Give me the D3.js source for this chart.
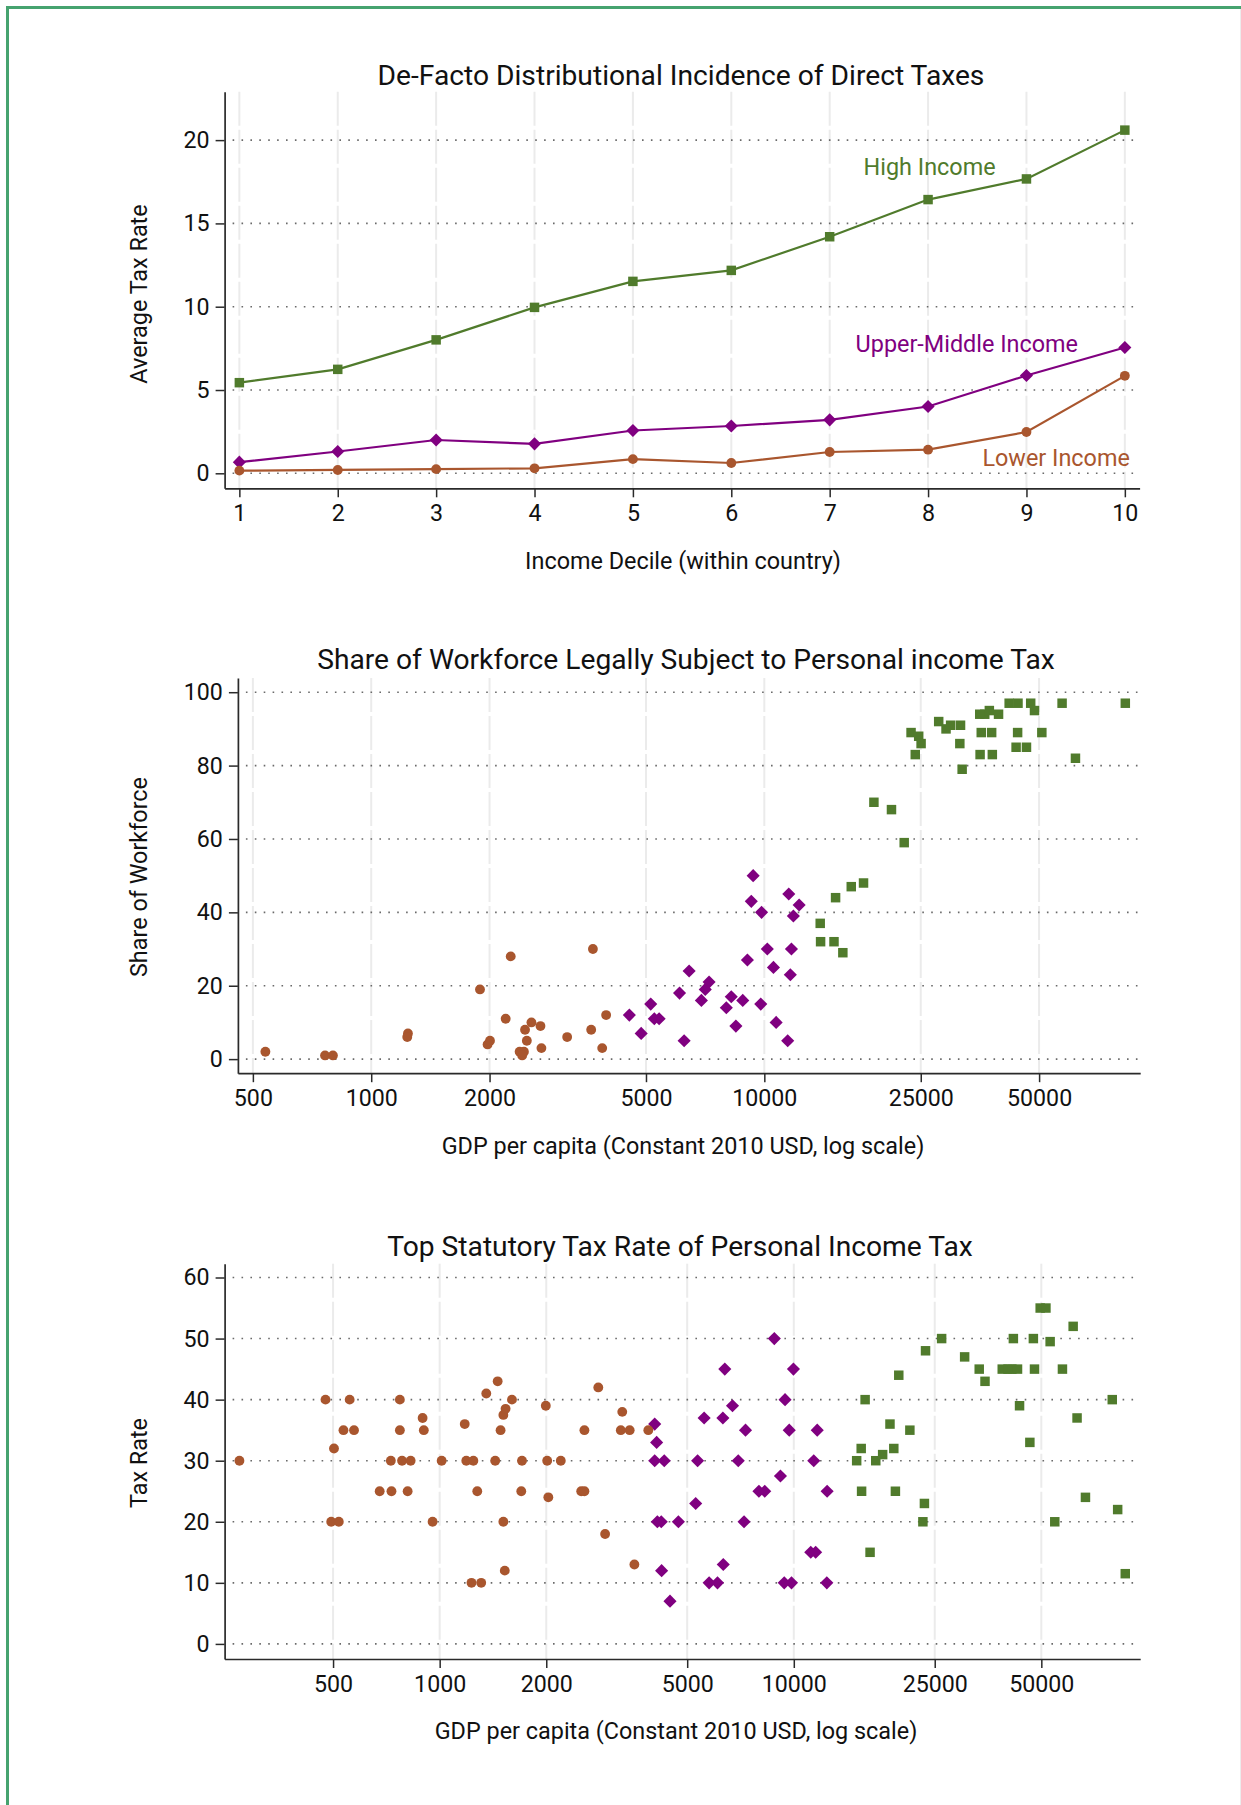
<!DOCTYPE html>
<html>
<head>
<meta charset="utf-8">
<script src="https://cdn.jsdelivr.net/npm/d3@7"></script>
<style>
  html, body { margin: 0; padding: 0; background: #fff; }
  svg { display: block; font-family: Roboto, "Noto Sans", sans-serif; }
</style>
</head>
<body>
<svg id="fig" width="1241" height="1805"></svg>
<script>
// ---- Panel 1: average tax rate by income decile ----
const deciles = [1, 2, 3, 4, 5, 6, 7, 8, 9, 10];
const rateHigh  = [5.44, 6.24, 8.01, 9.96, 11.52, 12.18, 14.2, 16.43, 17.67, 20.6];
const rateUpper = [0.67, 1.31, 2.0, 1.77, 2.57, 2.84, 3.21, 4.01, 5.87, 7.55];
const rateLower = [0.16, 0.2, 0.25, 0.3, 0.85, 0.62, 1.28, 1.42, 2.48, 5.85];
const rateTicks = [0, 5, 10, 15, 20];

// ---- Panel 2: share of workforce legally subject to PIT, [GDP per capita, share] ----
const shareLower = [[538,2],[763,1],[799,1],[1240,7],[1235,6],[1891,19],[2264,28],[2198,11],[1977,4],[2005,5],
  [2462,8],[2556,10],[2695,9],[2488,5],[2385,2],[2446,2],[2421,1],[2710,3],[3151,6],[3664,30],[3627,8],[3959,12],[3869,3]];
const shareUpper = [[4536,12],[4861,7],[5141,15],[5250,11],[5400,11],[6086,18],[6252,5],[6438,24],[6917,16],[7076,19],
  [7236,21],[8005,14],[8240,17],[8466,9],[8813,16],[9057,27],[9265,43],[9367,50],[9794,15],[9840,40],[10178,30],
  [10549,25],[10717,10],[11467,5],[11540,45],[11646,23],[11722,30],[11855,39],[12263,42]];
const shareHigh = [[13873,37],[13904,32],[15040,32],[15180,44],[15840,29],[16640,47],[17880,48],[19000,70],[21060,68],
  [22690,59],[23620,89],[24210,83],[24700,88],[25050,86],[27770,92],[28990,90],[29780,91],[31560,91],[31430,86],
  [31860,79],[35320,94],[36370,94],[37360,95],[39430,94],[35630,89],[37870,89],[35390,83],[38020,83],[41960,97],
  [44190,97],[44090,89],[43700,85],[46440,85],[47600,97],[48670,95],[50810,89],[57210,97],[61870,82],[82850,97]];
const shareTicks = [0, 20, 40, 60, 80, 100];

// ---- Panel 3: top statutory PIT rate, [GDP per capita, rate] ----
const topLower = [[272,30],[476,40],[503,32],[494,20],[519,20],[535,35],[557,40],[573,35],[677,25],[731,25],[728,30],
  [772,40],[772,35],[783,30],[828,30],[812,25],[895,37],[902,35],[955,20],[1013,30],[1177,36],[1189,30],[1245,30],
  [1230,10],[1310,10],[1277,25],[1354,41],[1435,30],[1458,43],[1486,35],[1513,37.5],[1535,38.5],[1513,20],[1527,12],
  [1600,40],[1708,30],[1700,25],[1994,39],[2012,30],[2027,24],[2198,30],[2510,25],[2563,25],[2563,35],[2805,42],
  [2932,18],[3278,38],[3247,35],[3440,35],[3547,13],[3883,35]];
const topUpper = [[4048,36],[4099,33],[4048,30],[4307,30],[4118,20],[4224,20],[4234,12],[4471,7],[4722,20],[5284,23],
  [5350,30],[5582,37],[5767,10],[6089,10],[6306,37],[6322,13],[6385,45],[6713,39],[6969,30],[7236,20],[7306,35],
  [7971,25],[8278,25],[8810,50],[9169,27.5],[9447,40],[9398,10],[9708,35],[9852,10],[9977,45],[11166,15],[11528,15],
  [11385,30],[11646,35],[12420,25],[12395,10]];
const topHigh = [[15050,30],[15500,32],[15900,40],[15540,25],[16420,15],[17040,30],[17820,31],[18690,36],[19160,32],
  [19360,25],[19790,44],[21270,35],[23150,20],[23380,23],[23550,48],[26150,50],[30370,47],[33390,45],[34670,43],
  [38780,45],[40270,45],[41280,45],[42830,45],[41690,50],[43400,39],[46410,33],[47480,50],[47830,45],[49630,55],
  [51520,55],[52950,49.5],[54570,20],[57360,45],[61500,52],[63080,37],[66620,24],[79300,40],[82140,22],[86300,11.5]];
const topTicks = [0, 10, 20, 30, 40, 50, 60];

const gdpTicks = [500, 1000, 2000, 5000, 10000, 25000, 50000];

const groupNames = ["High Income", "Upper-Middle Income", "Lower Income"];
const colors = { high: "#507b2c", upper: "#800080", lower: "#a9562e" };

const TITLE_SIZE = 28.2;
const LABEL_SIZE = 23.4;
const TICK_SIZE = 23.2;

const svg = d3.select("#fig");

// outer frame
svg.append("line").attr("x1", 7.5).attr("x2", 1241).attr("y1", 7.5).attr("y2", 7.5)
  .attr("stroke", "#46a36f").attr("stroke-width", 3);
svg.append("line").attr("x1", 7.5).attr("x2", 7.5).attr("y1", 6).attr("y2", 1805)
  .attr("stroke", "#46a36f").attr("stroke-width", 3);
svg.append("line").attr("x1", 1240.5).attr("x2", 1240.5).attr("y1", 9).attr("y2", 1805)
  .attr("stroke", "#ececec").attr("stroke-width", 1);

const symSquare = d3.symbol().type(d3.symbolSquare).size(90);
const symDiamond = d3.symbol().type(d3.symbolSquare).size(86);
const symCircle = d3.symbol().type(d3.symbolCircle).size(76);

function drawFrame(cfg) {
  const { x, y, xTicks, yTicks, xFormat } = cfg;
  const g = svg.append("g");
  const [x0, x1] = x.range();
  const [y0, y1] = y.range();

  // vertical light dashed grid
  g.append("g").selectAll("line").data(xTicks).join("line")
    .attr("x1", d => x(d)).attr("x2", d => x(d))
    .attr("y1", y1).attr("y2", y0)
    .attr("stroke", "#ebebeb").attr("stroke-width", 2)
    .attr("stroke-dasharray", "34,4");

  // horizontal dotted grid
  g.append("g").selectAll("line").data(yTicks).join("line")
    .attr("x1", x0 + 8).attr("x2", x1)
    .attr("y1", d => y(d)).attr("y2", d => y(d))
    .attr("stroke", "#6a6a6a").attr("stroke-width", 1.6)
    .attr("stroke-dasharray", "1.6,7.3");

  const yAxis = g.append("g").attr("transform", `translate(${x0},0)`)
    .call(d3.axisLeft(y).tickValues(yTicks).tickSize(9).tickSizeOuter(0).tickPadding(6));
  const xAxis = g.append("g").attr("transform", `translate(0,${y0})`)
    .call(d3.axisBottom(x).tickValues(xTicks).tickSize(9).tickSizeOuter(0).tickPadding(7.5)
      .tickFormat(xFormat || d3.format("d")));

  [yAxis, xAxis].forEach(a => {
    a.select(".domain").attr("stroke", "#2a2a2a").attr("stroke-width", 1.7);
    a.selectAll(".tick line").attr("stroke", "#2a2a2a").attr("stroke-width", 1.5);
    a.selectAll(".tick text").attr("fill", "#111").attr("font-size", TICK_SIZE)
      .attr("font-family", "Roboto, sans-serif");
  });

  svg.append("text").attr("x", cfg.titleX).attr("y", cfg.titleY)
    .attr("text-anchor", "middle").attr("font-size", TITLE_SIZE).attr("fill", "#111").text(cfg.title);
  svg.append("text").attr("x", cfg.xTitleX).attr("y", cfg.xTitleY)
    .attr("text-anchor", "middle").attr("font-size", LABEL_SIZE).attr("fill", "#111").text(cfg.xTitle);
  svg.append("text")
    .attr("transform", `translate(147,${cfg.yTitleY}) rotate(-90)`)
    .attr("text-anchor", "middle").attr("font-size", LABEL_SIZE).attr("fill", "#111").text(cfg.yTitle);
  return g;
}

function drawPoints(g, data, x, y, sym, color, rotate) {
  g.append("g").selectAll("path").data(data).join("path")
    .attr("d", sym)
    .attr("transform", d => `translate(${x(d[0])},${y(d[1])})` + (rotate ? " rotate(45)" : ""))
    .attr("fill", color);
}

// ---------- Panel 1 ----------
{
  const x = d3.scaleLinear().domain([0.85, 10.15]).range([224.6, 1139.6]);
  const y = d3.scaleLinear().domain([-0.9, 22.9]).range([488.3, 91.8]);
  const g = drawFrame({
    x, y, xTicks: deciles, yTicks: rateTicks,
    title: "De-Facto Distributional Incidence of Direct Taxes", titleX: 681, titleY: 85,
    xTitle: "Income Decile (within country)", xTitleX: 683, xTitleY: 569,
    yTitle: "Average Tax Rate", yTitleY: 294
  });
  const series = [
    { v: rateHigh, c: colors.high, sym: symSquare, rot: false },
    { v: rateUpper, c: colors.upper, sym: symDiamond, rot: true },
    { v: rateLower, c: colors.lower, sym: symCircle, rot: false }
  ];
  const line = d3.line().x(d => x(d[0])).y(d => y(d[1]));
  series.forEach(s => {
    const pts = deciles.map((d, i) => [d, s.v[i]]);
    g.append("path").attr("d", line(pts)).attr("fill", "none")
      .attr("stroke", s.c).attr("stroke-width", 2.2);
    drawPoints(g, pts, x, y, s.sym, s.c, s.rot);
  });
  const labels = [
    { t: groupNames[0], x: 863.6, y: 175, c: colors.high },
    { t: groupNames[1], x: 855.6, y: 352, c: colors.upper },
    { t: groupNames[2], x: 982.4, y: 466, c: colors.lower }
  ];
  svg.append("g").selectAll("text").data(labels).join("text")
    .attr("x", d => d.x).attr("y", d => d.y).attr("fill", d => d.c)
    .attr("font-size", LABEL_SIZE).text(d => d.t);
}

// ---------- Panel 2 ----------
{
  const x = d3.scaleLog().domain([458, 90400]).range([237.9, 1140.2]);
  const y = d3.scaleLinear().domain([-3.84, 103.9]).range([1073.2, 677.9]);
  const g = drawFrame({
    x, y, xTicks: gdpTicks, yTicks: shareTicks,
    title: "Share of Workforce Legally Subject to Personal income Tax", titleX: 686, titleY: 669,
    xTitle: "GDP per capita (Constant 2010 USD, log scale)", xTitleX: 683, xTitleY: 1154,
    yTitle: "Share of Workforce", yTitleY: 877
  });
  drawPoints(g, shareHigh, x, y, symSquare, colors.high, false);
  drawPoints(g, shareUpper, x, y, symDiamond, colors.upper, true);
  drawPoints(g, shareLower, x, y, symCircle, colors.lower, false);
}

// ---------- Panel 3 ----------
{
  const x = d3.scaleLog().domain([247, 95100]).range([224.6, 1140.2]);
  const y = d3.scaleLinear().domain([-2.47, 62.26]).range([1659, 1263.7]);
  const g = drawFrame({
    x, y, xTicks: gdpTicks, yTicks: topTicks,
    title: "Top Statutory Tax Rate of Personal Income Tax", titleX: 680, titleY: 1256,
    xTitle: "GDP per capita (Constant 2010 USD, log scale)", xTitleX: 676, xTitleY: 1739,
    yTitle: "Tax Rate", yTitleY: 1463
  });
  drawPoints(g, topHigh, x, y, symSquare, colors.high, false);
  drawPoints(g, topUpper, x, y, symDiamond, colors.upper, true);
  drawPoints(g, topLower, x, y, symCircle, colors.lower, false);
}
</script>
</body>
</html>
